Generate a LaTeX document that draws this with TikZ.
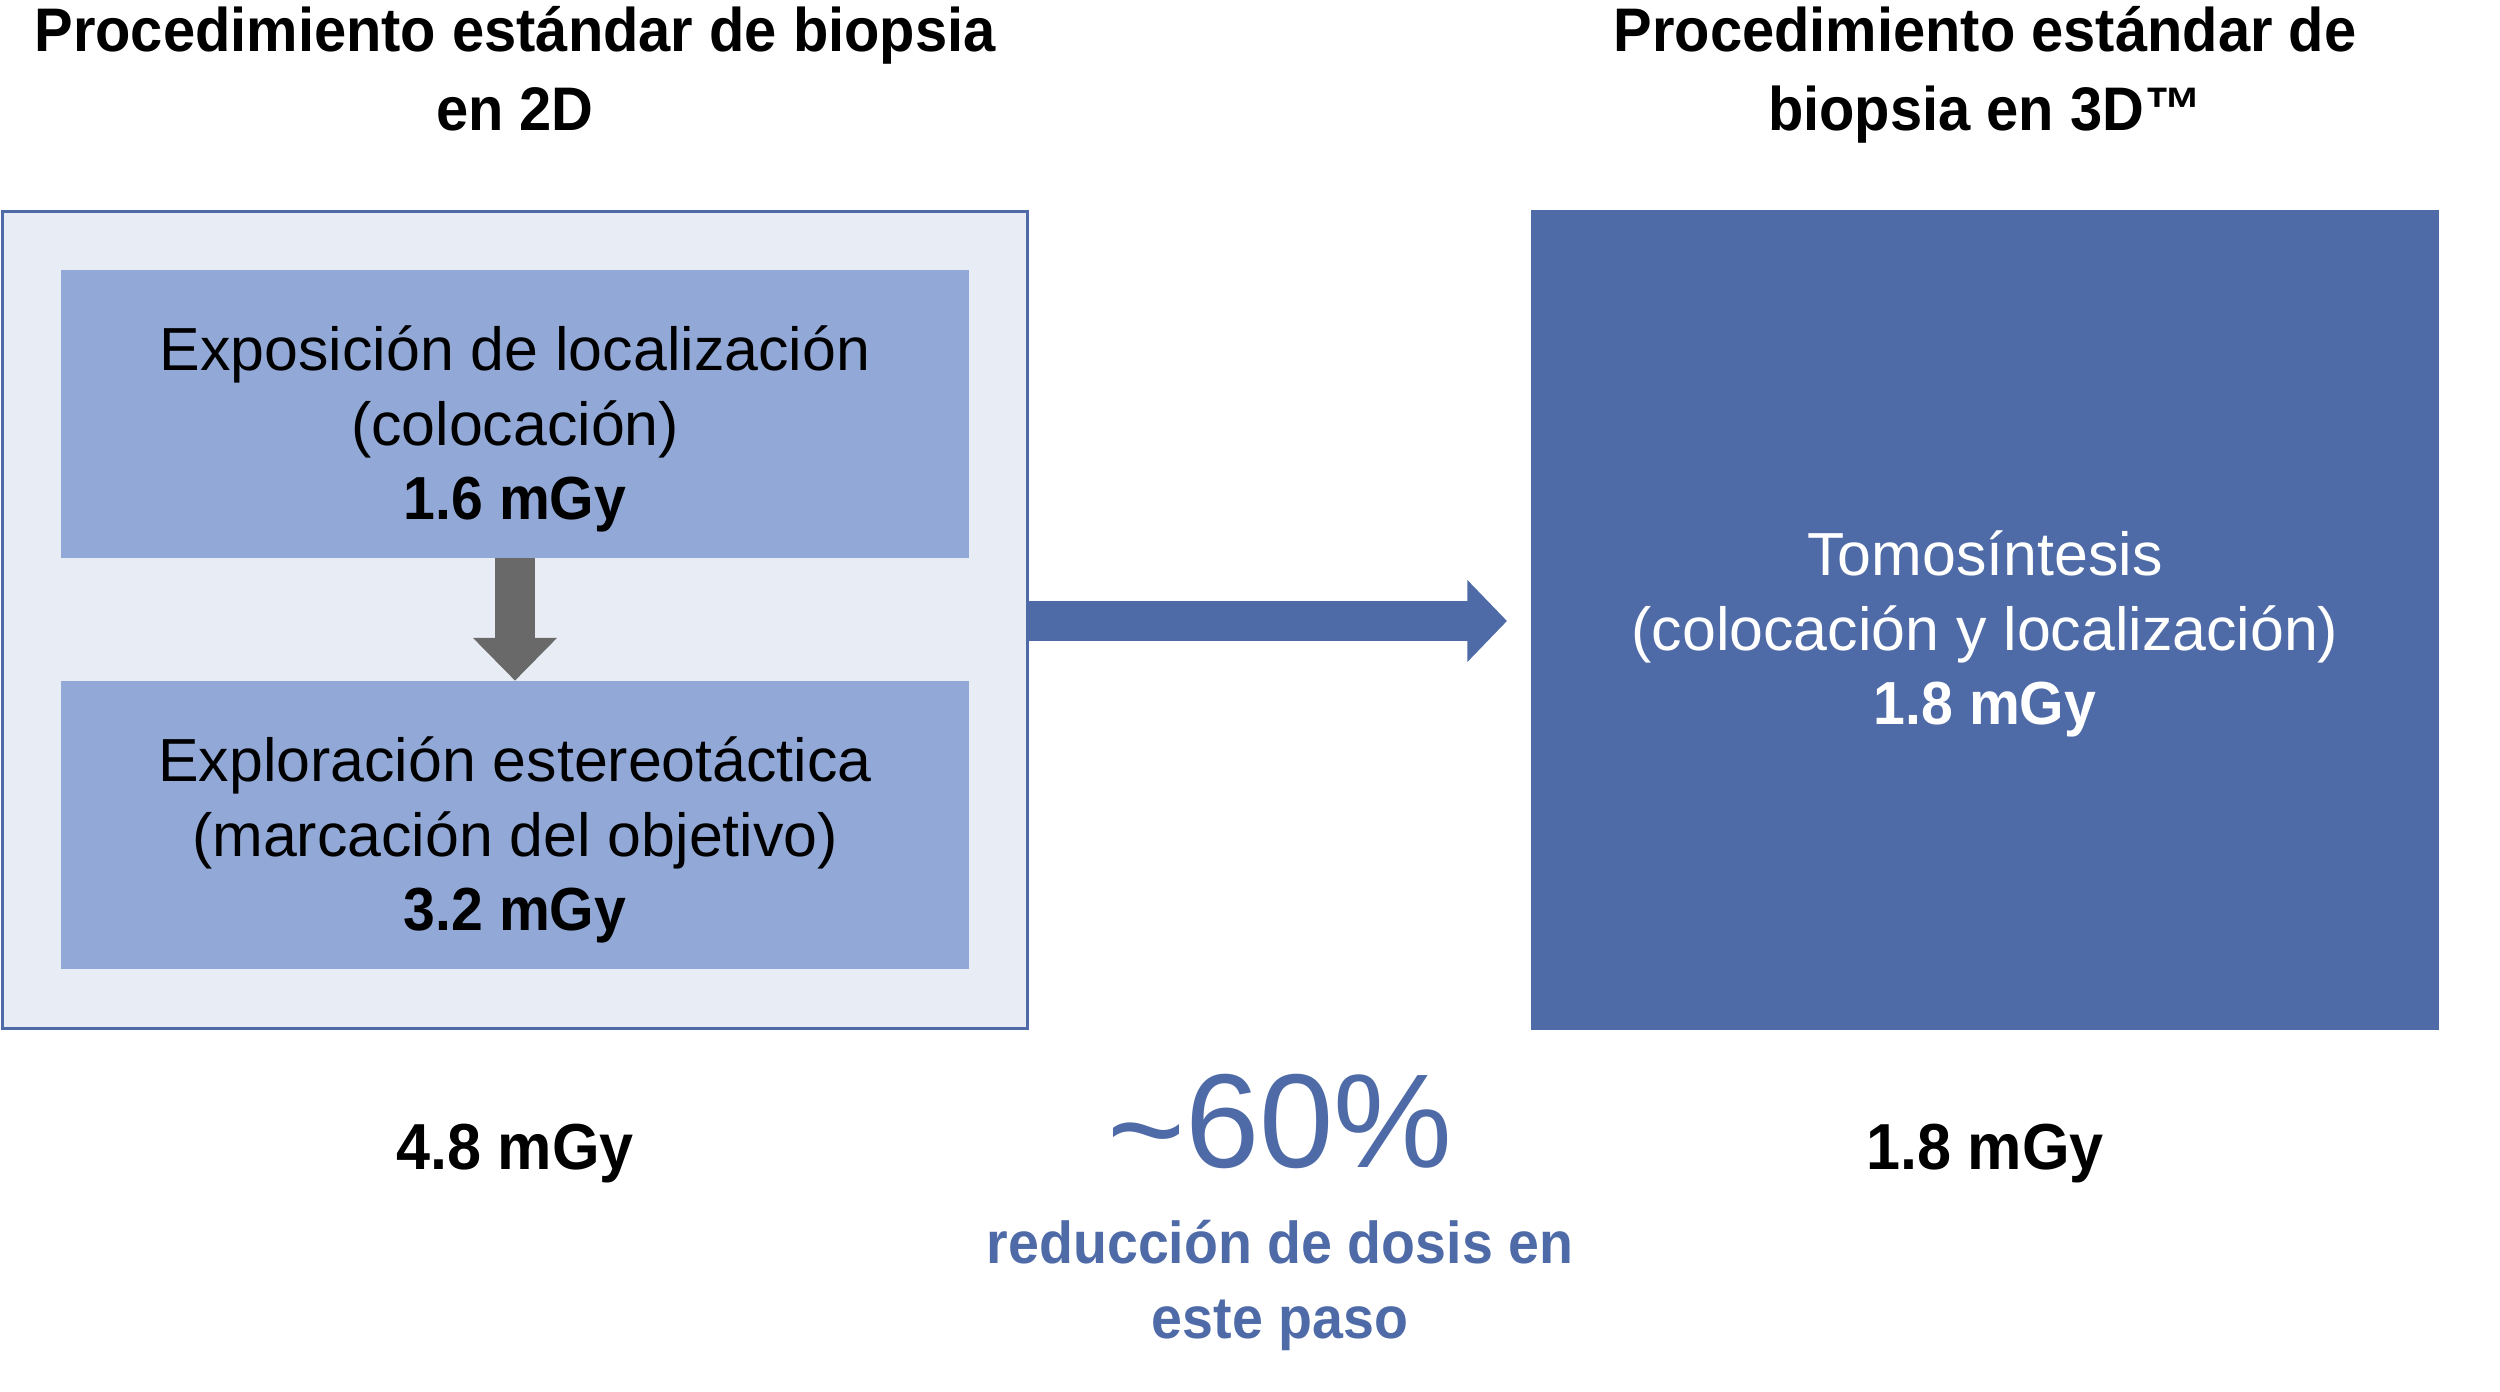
\documentclass[tikz,border=0pt]{standalone}
\usepackage{fontspec}
\setmainfont{Liberation Sans}[BoldFeatures={FakeStretch=0.94}]
\usetikzlibrary{arrows.meta}
\definecolor{outerfill}{HTML}{E8ECF5}
\definecolor{bluemain}{HTML}{4E6AA7}
\definecolor{innerfill}{HTML}{92A9D7}
\definecolor{grayarrow}{HTML}{696969}
\tikzset{
  inner/.style={fill=innerfill, draw=none, minimum width=9.08cm, minimum height=2.87cm, inner sep=0pt},
  boxtext/.style={align=center, inner sep=0pt, font=\fontsize{17.3}{21.3}\selectfont},
  title/.style={align=center, font=\bfseries\fontsize{17.5}{22.7}\selectfont, inner sep=0pt, anchor=base},
  dose/.style={font=\bfseries\fontsize{18.5}{22}\selectfont, inner sep=0pt, anchor=base},
}
\begin{document}
\begin{tikzpicture}[x=0.01cm,y=-0.01cm]
\useasboundingbox (0,0) rectangle (2500,1392);
% titles
\node[title] (t1) at (515,131) {Procedimiento estándar de biopsia\\en 2D};
\node[title] (t2) at (1985,131) {Procedimiento estándar de\\biopsia en 3D™};
% left outer box
\node[draw=bluemain, line width=0.85pt, fill=outerfill, minimum width=10.25cm, minimum height=8.16cm, inner sep=0pt] (outer) at (515,620) {};
\node[inner] (b1) at (515,414) {};
\node[boxtext] (b1t) at (515,429) {Exposición de localización\\(colocación)\\\textbf{1.6 mGy}};
\node[inner] (b2) at (515,825) {};
\node[boxtext] (b2t) at (515,840) {Exploración estereotáctica\\(marcación del objetivo)\\\textbf{3.2 mGy}};
\draw[grayarrow, line width=11.3pt, -{Triangle[width=23.2pt,length=12.2pt]}] (b1.south) -- (b2.north);
% right box
\node[fill=bluemain, minimum width=9.08cm, minimum height=8.2cm, inner sep=0pt] (rb) at (1985,620) {};
\node[boxtext, text=white] (rbt) at (1985,634) {Tomosíntesis\\(colocación y localización)\\\textbf{1.8 mGy}};
% big arrow
\coordinate (ae) at (1507,621);
\draw[bluemain, line width=11.3pt, -{Triangle[width=22.7pt,length=11.3pt]}] (outer.east |- ae) -- (ae);
% bottom texts
\node[dose] (d1) at (515,1169) {4.8 mGy};
\node[dose] (d2) at (1985,1169) {1.8 mGy};
\node[inner sep=0pt, anchor=base, text=bluemain, font=\fontsize{38}{40}\selectfont] (pct) at (1280,1167) {\raisebox{-2.5pt}{\textasciitilde}60\%};
\node[inner sep=0pt, align=center, text=bluemain, font=\bfseries\fontsize{16.8}{21.3}\selectfont, anchor=base] (red) at (1280,1338) {reducción de dosis en\\este paso};
\end{tikzpicture}
\end{document}
